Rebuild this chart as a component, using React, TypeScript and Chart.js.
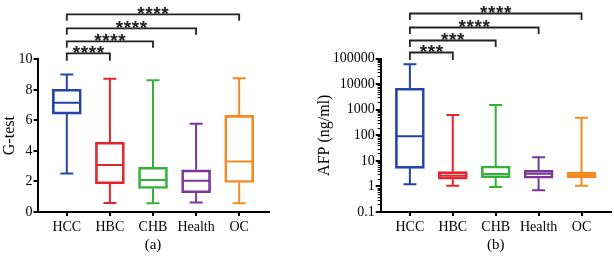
import React, { useEffect, useRef } from 'react';
import { Chart, registerables } from 'chart.js';

Chart.register(...registerables);

const categories = ['HCC', 'HBC', 'CHB', 'Health', 'OC'];
const colors = ['#2444a6', '#e3262d', '#36b039', '#7b3797', '#f28b24'];

// Panel (a): G-test
const gMin = [2.52, 0.59, 0.57, 0.63, 0.57];
const gQ1 = [6.41, 1.85, 1.54, 1.26, 1.93];
const gMedian = [7.15, 3.07, 2.09, 2.04, 3.3];
const gQ3 = [8.04, 4.57, 2.93, 2.76, 6.33];
const gMax = [9.0, 8.72, 8.63, 5.78, 8.76];
const gTicks = [0, 2, 4, 6, 8, 10];
const gStars = ['****', '****', '****', '****'];

// Panel (b): AFP (ng/ml)
const afpMin = [1.21, 1.07, 0.95, 0.71, 1.07];
const afpQ1 = [5.1, 1.9, 2.19, 2.08, 2.13];
const afpMedian = [91, 2.63, 3.06, 3.14, 2.79];
const afpQ3 = [6850, 3.76, 6.29, 4.27, 3.66];
const afpMax = [59400, 620, 1525, 13.7, 486];
const afpTicks = [0.1, 1, 10, 100, 1000, 10000, 100000];
const afpStars = ['***', '***', '****', '****'];

const FONT = '"Liberation Serif", "Times New Roman", serif';
const BOX_W = 29;
const CAP_W = 13;

type Stats = { min: number[]; q1: number[]; med: number[]; q3: number[]; max: number[] };

function makePlugin(stats: Stats, stars: string[], logMinor: boolean) {
  return {
    id: 'boxExtras',
    afterDatasetsDraw(chart: any) {
      const { ctx, scales, chartArea } = chart;
      const x = scales.x;
      const y = scales.y;
      ctx.save();
      ctx.lineWidth = 2;
      ctx.lineCap = 'butt';
      categories.forEach((_, i) => {
        const cx = x.getPixelForValue(i);
        const pMin = y.getPixelForValue(stats.min[i]);
        const pQ1 = y.getPixelForValue(stats.q1[i]);
        const pMed = y.getPixelForValue(stats.med[i]);
        const pQ3 = y.getPixelForValue(stats.q3[i]);
        const pMax = y.getPixelForValue(stats.max[i]);
        ctx.strokeStyle = colors[i];
        ctx.beginPath();
        ctx.moveTo(cx, pQ3);
        ctx.lineTo(cx, pMax);
        ctx.moveTo(cx - CAP_W / 2, pMax);
        ctx.lineTo(cx + CAP_W / 2, pMax);
        ctx.moveTo(cx, pQ1);
        ctx.lineTo(cx, pMin);
        ctx.moveTo(cx - CAP_W / 2, pMin);
        ctx.lineTo(cx + CAP_W / 2, pMin);
        ctx.moveTo(cx - BOX_W / 2 + 1, pMed);
        ctx.lineTo(cx + BOX_W / 2 - 1, pMed);
        ctx.stroke();
      });

      if (logMinor) {
        ctx.strokeStyle = '#000';
        ctx.lineWidth = 1;
        ctx.beginPath();
        for (let d = -1; d < 5; d++) {
          for (let k = 2; k <= 9; k++) {
            const py = Math.round(y.getPixelForValue(k * Math.pow(10, d))) + 0.5;
            ctx.moveTo(chartArea.left - 3, py);
            ctx.lineTo(chartArea.left, py);
          }
        }
        ctx.stroke();
      }

      // significance brackets
      const offsets = [6, 18, 31, 45];
      ctx.strokeStyle = '#222';
      ctx.fillStyle = '#222';
      ctx.lineWidth = 1.8;
      ctx.font = 'bold 19px "Liberation Sans", Arial, sans-serif';
      ctx.textAlign = 'center';
      ctx.textBaseline = 'alphabetic';
      stars.forEach((s, j) => {
        const x1 = x.getPixelForValue(0);
        const x2 = x.getPixelForValue(j + 1);
        const top = chartArea.top - offsets[j];
        const leg = j === 0 ? 7.5 : 6.5;
        ctx.beginPath();
        ctx.moveTo(x1, top + leg);
        ctx.lineTo(x1, top);
        ctx.lineTo(x2, top);
        ctx.lineTo(x2, top + leg);
        ctx.stroke();
        const mid = (x1 + x2) / 2;
        const n = s.length;
        for (let k = 0; k < n; k++) {
          ctx.fillText('*', mid + (k - (n - 1) / 2) * 8, top + 5.5);
        }
      });
      ctx.restore();
    },
  };
}

function buildConfig(
  stats: Stats,
  stars: string[],
  log: boolean,
  yTitle: string,
  xTitle: string,
  yWidth: number,
  yTitlePad: number,
  padRight: number,
  top: number
): any {
  const tickFont = { family: FONT, size: 14 };
  const titleFont = { family: FONT, size: 16 };
  return {
    type: 'bar',
    data: {
      datasets: [
        {
          data: categories.map((_, i) => ({ x: i, y: [stats.q1[i], stats.q3[i]] })),
          backgroundColor: 'rgba(255,255,255,0)',
          borderColor: colors,
          borderWidth: 2,
          borderSkipped: false,
          barThickness: BOX_W,
        },
      ],
    },
    options: {
      responsive: false,
      animation: false,
      events: [],
      layout: { padding: { top, left: 0, right: padRight, bottom: 0 } },
      plugins: { legend: { display: false }, tooltip: { enabled: false } },
      scales: {
        x: {
          type: 'linear',
          offset: false,
          min: -0.68,
          max: 4.68,
          afterBuildTicks: (s: any) => {
            s.ticks = categories.map((_, i) => ({ value: i }));
          },
          afterFit: (s: any) => {
            s.height = 48;
          },
          ticks: {
            callback: (v: any) => categories[v],
            font: tickFont,
            color: '#000',
            padding: 3,
            autoSkip: false,
            maxRotation: 0,
          },
          grid: {
            offset: false,
            drawOnChartArea: false,
            drawTicks: true,
            tickLength: 4,
            color: '#000',
            lineWidth: 2,
          },
          border: { display: true, color: '#000', width: 2 },
          title: {
            display: true,
            text: xTitle,
            font: { family: FONT, size: 15 },
            color: '#000',
            padding: { top: 0, bottom: 6 },
          },
        },
        y: log
          ? {
              type: 'logarithmic',
              min: afpTicks[0],
              max: afpTicks[afpTicks.length - 1],
              afterBuildTicks: (s: any) => {
                s.ticks = afpTicks.map((v) => ({ value: v }));
              },
              afterFit: (s: any) => {
                s.width = yWidth;
              },
              ticks: {
                callback: (v: any) => String(v),
                font: tickFont,
                color: '#000',
                padding: 1,
                autoSkip: false,
              },
              grid: { drawOnChartArea: false, drawTicks: true, tickLength: 5, color: '#000', lineWidth: 2 },
              border: { display: true, color: '#000', width: 2 },
              title: {
                display: true,
                text: yTitle,
                font: titleFont,
                color: '#000',
                padding: { top: yTitlePad, bottom: 0 },
              },
            }
          : {
              type: 'linear',
              min: gTicks[0],
              max: gTicks[gTicks.length - 1],
              afterBuildTicks: (s: any) => {
                s.ticks = gTicks.map((v) => ({ value: v }));
              },
              afterFit: (s: any) => {
                s.width = yWidth;
              },
              ticks: { font: tickFont, color: '#000', padding: 1 },
              grid: { drawOnChartArea: false, drawTicks: true, tickLength: 4, color: '#000', lineWidth: 2 },
              border: { display: true, color: '#000', width: 2 },
              title: {
                display: true,
                text: yTitle,
                font: titleFont,
                color: '#000',
                padding: { top: yTitlePad, bottom: 0 },
              },
            },
      },
    },
    plugins: [makePlugin(stats, stars, log)],
  };
}

function Panel(props: { cfg: any; width: number; left: number }) {
  const ref = useRef<HTMLCanvasElement>(null);
  useEffect(() => {
    const chart = new Chart(ref.current as HTMLCanvasElement, props.cfg);
    return () => chart.destroy();
  }, []);
  return (
    <canvas
      ref={ref}
      width={props.width}
      height={260}
      style={{ position: 'absolute', left: props.left, top: 0, width: props.width, height: 260 }}
    />
  );
}

export default function App() {
  const cfgA = buildConfig(
    { min: gMin, q1: gQ1, med: gMedian, q3: gQ3, max: gMax },
    gStars,
    false,
    'G-test',
    '(a)',
    37.5,
    0,
    31.5,
    59.3
  );
  const cfgB = buildConfig(
    { min: afpMin, q1: afpQ1, med: afpMedian, q3: afpQ3, max: afpMax },
    afpStars,
    true,
    'AFP (ng/ml)',
    '(b)',
    80.7,
    15.6,
    3.3,
    58.5
  );
  return (
    <div style={{ position: 'absolute', left: 0, top: 0, width: 614, height: 260, background: '#fff' }}>
      <Panel cfg={cfgA} width={300} left={0} />
      <Panel cfg={cfgB} width={314} left={300} />
    </div>
  );
}
